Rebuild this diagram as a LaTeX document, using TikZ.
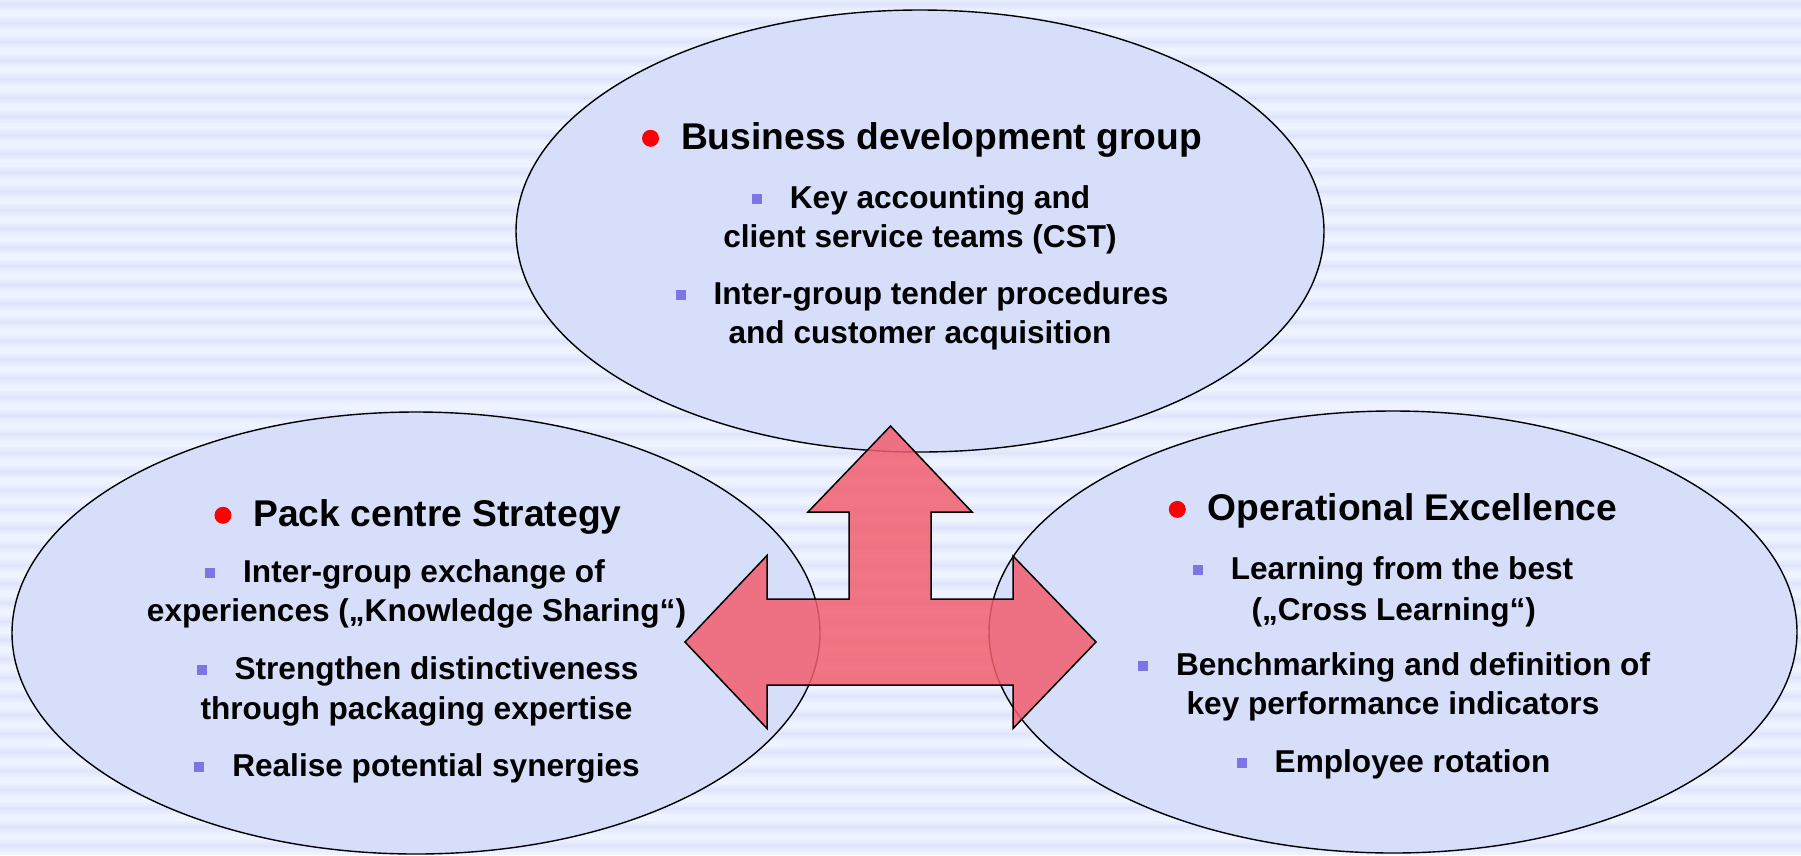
\documentclass[tikz,border=0pt]{standalone}
\usepackage{fontspec}
\setmainfont{Liberation Sans}
\usetikzlibrary{shapes.geometric}
\definecolor{bglight}{RGB}{238,243,255}
\definecolor{bgdark}{RGB}{223,228,252}
\definecolor{ellfill}{RGB}{215,222,250}
\definecolor{arrowred}{RGB}{242,95,110}
\definecolor{sqblue}{RGB}{122,118,230}
\newcommand{\rdot}{\raisebox{2.5pt}{\tikz\fill[red] (0,0) circle[radius=8.5pt];}\hspace{22pt}}
\newcommand{\sqb}{{\color{sqblue}\rule[4.5pt]{10pt}{10pt}}\hspace{28pt}}
\begin{document}
\begin{tikzpicture}[x=1pt,y=-1pt,
  bubble/.style={ellipse, draw=black, line width=1.4pt, fill=ellfill,
    minimum width=808pt, minimum height=442pt, inner sep=0pt},
  headtext/.style={anchor=base, font=\bfseries\fontsize{37.2}{44}\selectfont, inner sep=0pt},
  itemtext/.style={anchor=base, font=\bfseries\fontsize{31.6}{38}\selectfont, inner sep=0pt},
  arrowshape/.style={draw=black, line width=1.5pt, fill=arrowred, fill opacity=0.85, line join=miter}]
\useasboundingbox (0,0) rectangle (1801,855);
\fill[bglight] (0,0) rectangle (1801,855);
\foreach \i in {0,...,46} {
  \pgfmathsetmacro\yc{4+18.7*\i}
  \shade[top color=bglight, bottom color=bglight, middle color=bgdark] (0,\yc-7) rectangle (1801,\yc+7);
}
% bubbles
\node[bubble] (top) at (920,231) {};
\node[bubble] (left) at (416,633) {};
\node[bubble] (right) at (1393,632) {};
% three-way arrow
\coordinate (hub) at (890.5,642);
\draw[arrowshape] (890.5,426) -- (972,512) -- (931,512) -- (931,599) -- (1013,599) -- (1013,556)
  -- (1096,642) -- (1013,728.5) -- (1013,685) -- (767,685) -- (767,728.5) -- (685,642)
  -- (767,555.5) -- (767,599) -- (849,599) -- (849,512) -- (808,512) -- cycle;
% top texts
\node[headtext] (tH) at (922,149.3) {\rdot Business development group};
\node[itemtext] (t1a) at (921,208) {\sqb Key accounting and};
\node[itemtext] (t1b) at (920,247) {client service teams (CST)};
\node[itemtext] (t2a) at (922,304.5) {\sqb Inter-group tender procedures};
\node[itemtext] (t2b) at (920,343.5) {and customer acquisition};
% left texts
\node[headtext] (lH) at (418,526.3) {\rdot Pack centre Strategy};
\node[itemtext] (l1a) at (405,582.5) {\sqb Inter-group exchange of};
\node[itemtext] (l1b) at (416.5,621.5) {experiences („Knowledge Sharing“)};
\node[itemtext] (l2a) at (417.5,679) {\sqb Strengthen distinctiveness};
\node[itemtext] (l2b) at (416.5,719.3) {through packaging expertise};
\node[itemtext] (l3a) at (417,776.7) {\sqb Realise potential synergies};
% right texts
\node[headtext] (rH) at (1393,520.4) {\rdot Operational Excellence};
\node[itemtext] (r1a) at (1383,579) {\sqb Learning from the best};
\node[itemtext] (r1b) at (1393.7,620.5) {(„Cross Learning“)};
\node[itemtext] (r2a) at (1394,675.6) {\sqb Benchmarking and definition of};
\node[itemtext] (r2b) at (1393,714.7) {key performance indicators};
\node[itemtext] (r3a) at (1393.5,772) {\sqb Employee rotation};
\end{tikzpicture}
\end{document}
